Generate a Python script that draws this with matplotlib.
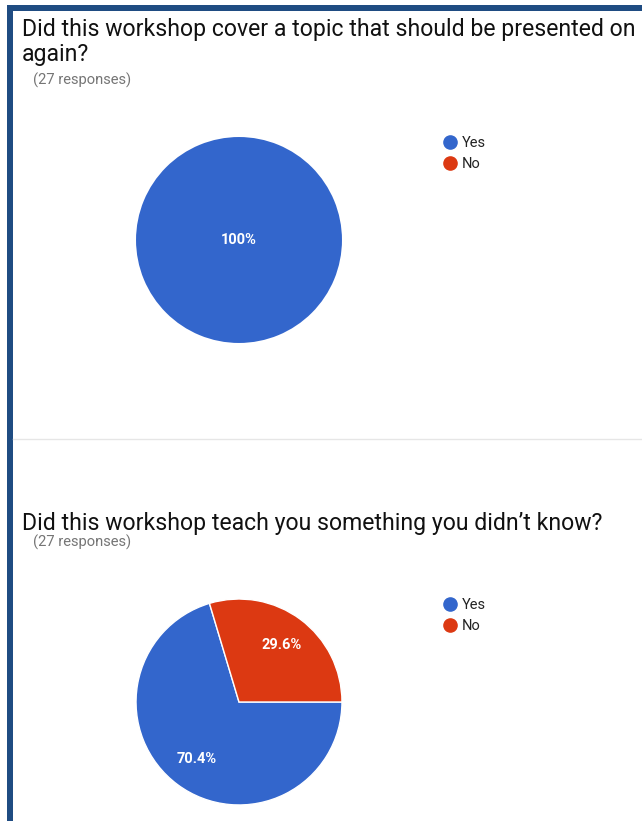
import matplotlib.pyplot as plt
from matplotlib.patches import Rectangle
from matplotlib.lines import Line2D

plt.rcParams['font.family'] = ['Roboto', 'DejaVu Sans']

W, H = 642, 821

# survey answers
answers = ['Yes', 'No']
q1_title = 'Did this workshop cover a topic that should be presented on\nagain?'
q1_counts = [27, 0]
q2_title = 'Did this workshop teach you something you didn\u2019t know?'
q2_counts = [19, 8]
n_responses = 27

colors = ['#3366cc', '#dc3912']

fig = plt.figure(figsize=(W / 100, H / 100), dpi=100)
fig.patch.set_facecolor('white')


def px(x, y):
    # pixel coords (from top-left) -> figure fraction
    return x / W, 1 - y / H


# dark frame on the top and left
fig.patches.append(Rectangle(px(7, 11), (W - 7) / W, 6 / H, transform=fig.transFigure,
                             facecolor='#1f4c82', edgecolor='none'))
fig.patches.append(Rectangle(px(7, H), 6 / W, (H - 5) / H, transform=fig.transFigure,
                             facecolor='#1f4c82', edgecolor='none'))
# separator between the two questions
fig.add_artist(Line2D([13 / W, 1], [1 - 439 / H] * 2, transform=fig.transFigure,
                      color='#e6e6e6', lw=1))


def draw_question(title, counts, title_y, sub_y, cx, cy, r, leg_y):
    tx, ty = px(22, title_y)
    fig.text(tx, ty, title, fontsize=16.6, color='#111111', va='top', ha='left',
             linespacing=1.1)
    sx, sy = px(33, sub_y)
    fig.text(sx, sy, '(%d responses)' % n_responses, fontsize=10.6, color='#757575',
             va='top', ha='left')

    left, top = px(cx - r, cy - r)
    ax = fig.add_axes([left, top - 2 * r / H, 2 * r / W, 2 * r / H])
    vals = [c for c in counts if c > 0]
    cols = [colors[i] for i, c in enumerate(counts) if c > 0]
    ax.pie(vals, colors=cols, startangle=0, counterclock=False,
           autopct=lambda p: '%.1f%%' % p if p < 100 else '100%',
           pctdistance=0.69 if len(vals) > 1 else 0,
           wedgeprops=dict(edgecolor='white', linewidth=1 if len(vals) > 1 else 0),
           textprops=dict(color='white', fontsize=10.5, fontweight='bold'))
    ax.set_xlim(-1.01, 1.01)
    ax.set_ylim(-1.01, 1.01)
    ax.axis('off')

    handles = [Line2D([], [], marker='o', linestyle='none', markersize=9.5,
                      markerfacecolor=c, markeredgecolor=c) for c in colors]
    lx, ly = px(444, leg_y)
    fig.legend(handles, answers, loc='upper left', bbox_to_anchor=(lx, ly),
               frameon=False, fontsize=10.5, handlelength=0.8, handletextpad=0.45,
               labelspacing=0.5, borderpad=0, borderaxespad=0, labelcolor='#222222')


draw_question(q1_title, q1_counts, 18, 73, 239, 240, 104, 136)
draw_question(q2_title, q2_counts, 512, 535, 239, 702, 104, 598)

fig.savefig('out.png', dpi=100)
